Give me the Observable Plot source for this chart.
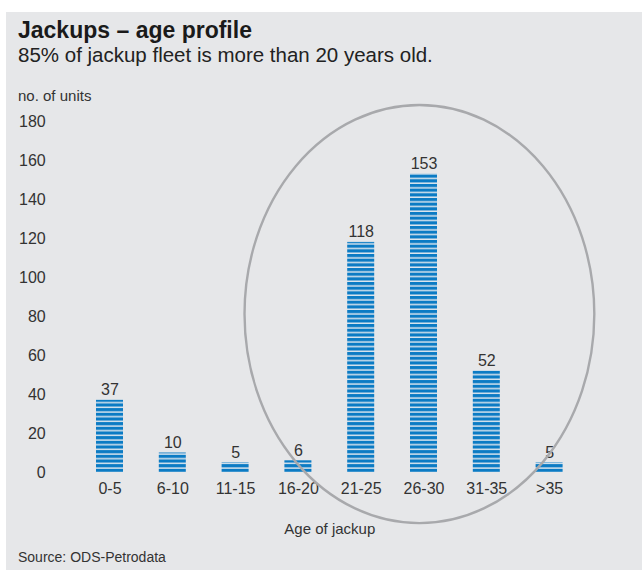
<!DOCTYPE html>
<html>
<head>
<meta charset="utf-8">
<script src="https://cdn.jsdelivr.net/npm/d3@7"></script>
<script src="https://cdn.jsdelivr.net/npm/@observablehq/plot@0.6"></script>
<style>
  html, body { margin: 0; padding: 0; background: #fff; }
  body { width: 642px; height: 570px; position: relative; overflow: hidden;
         font-family: "Liberation Sans", Arial, sans-serif; color: #222; }
  #panel { position: absolute; left: 6px; top: 12px; width: 636px; height: 558px; background: #e6e7e9; }
  .txt { position: absolute; white-space: nowrap; }
  #title { left: 12px; top: 6.5px; font-size: 23px; line-height: 23px; font-weight: bold; color: #1a1a1a; }
  #subtitle { left: 12px; top: 32.5px; font-size: 20.5px; line-height: 20.5px; color: #222; }
  #ylabel { left: 12px; top: 76px; font-size: 15px; line-height: 15px; color: #333; }
  #source { left: 12px; top: 538px; font-size: 14px; line-height: 14px; color: #333; }
  #chart { position: absolute; left: 0; top: 100px; }
</style>
</head>
<body>
<div id="panel">
  <div class="txt" id="title">Jackups – age profile</div>
  <div class="txt" id="subtitle">85% of jackup fleet is more than 20 years old.</div>
  <div class="txt" id="ylabel">no. of units</div>
  <div class="txt" id="source">Source: ODS-Petrodata</div>
</div>
<div id="chart"></div>
<script>
// Age bands and number of jackup units in each
const ageBands = ["0-5", "6-10", "11-15", "16-20", "21-25", "26-30", "31-35", ">35"];
const units = [37, 10, 5, 6, 118, 153, 52, 5];
const yTicks = [0, 20, 40, 60, 80, 100, 120, 140, 160, 180];
const xLabel = "Age of jackup";

const data = ageBands.map((age, i) => ({age, units: units[i]}));

const blue = "#0b7bc4";
const gap = "#dce6ee";
const stripePeriod = 4.67;
const stripeBlue = 3.2;

// Striped fill for the bars, aligned so a stripe ends on the baseline
function stripes(index, {y}) {
  const y0 = y(0);
  const g = d3.create("svg:defs");
  const p = g.append("pattern")
    .attr("id", "stripes")
    .attr("patternUnits", "userSpaceOnUse")
    .attr("x", 0)
    .attr("y", y0 - stripeBlue)
    .attr("width", 20)
    .attr("height", stripePeriod);
  p.append("rect").attr("width", 20).attr("height", stripePeriod).attr("fill", gap);
  p.append("rect").attr("width", 20).attr("height", stripeBlue).attr("fill", blue);
  return g.node();
}

// Highlight ring around the older age bands
const ring = {from: "16-20", fromOffset: -0.85, to: ">35", toOffset: 0.72, y1: -26.2, y2: 188.2};
function highlight(index, {x, y}) {
  const bw = typeof x.bandwidth === "function" ? x.bandwidth() : (x.bandwidth || 0);
  const step = x(ageBands[1]) - x(ageBands[0]);
  const left = x(ring.from) + bw / 2 + ring.fromOffset * step;
  const right = x(ring.to) + bw / 2 + ring.toOffset * step;
  const top = y(ring.y2), bottom = y(ring.y1);
  const e = d3.create("svg:ellipse")
    .attr("cx", (left + right) / 2)
    .attr("cy", (top + bottom) / 2)
    .attr("rx", (right - left) / 2)
    .attr("ry", (bottom - top) / 2)
    .attr("fill", "none")
    .attr("stroke", "#a8a9ac")
    .attr("stroke-width", 2.4);
  return e.node();
}

const chart = Plot.plot({
  width: 642,
  height: 440,
  marginLeft: 60.2,
  marginRight: 43.6,
  marginTop: 21,
  marginBottom: 68,
  style: {
    background: "transparent",
    fontFamily: "'Liberation Sans', Arial, sans-serif",
    fontSize: "16px",
    color: "#333"
  },
  x: {domain: ageBands, padding: 0.57, round: false, label: null},
  y: {domain: [0, 180], label: null},
  marks: [
    stripes,
    Plot.barY(data, {x: "age", y: "units", fill: "url(#stripes)"}),
    Plot.text(data, {x: "age", y: "units", text: d => String(d.units), dy: -5, lineAnchor: "bottom", fill: "#333", fontSize: 16}),
    Plot.axisY({ticks: yTicks, tickSize: 0, tickPadding: 15, label: null, fontSize: 16, fill: "#333"}),
    Plot.axisX({tickSize: 0, tickPadding: 10, label: null, fontSize: 16, fill: "#333"}),
    Plot.text([xLabel], {frameAnchor: "bottom", dy: 57, lineAnchor: "middle", fill: "#333", fontSize: 15}),
    highlight
  ]
});

document.getElementById("chart").appendChild(chart);
</script>
</body>
</html>
